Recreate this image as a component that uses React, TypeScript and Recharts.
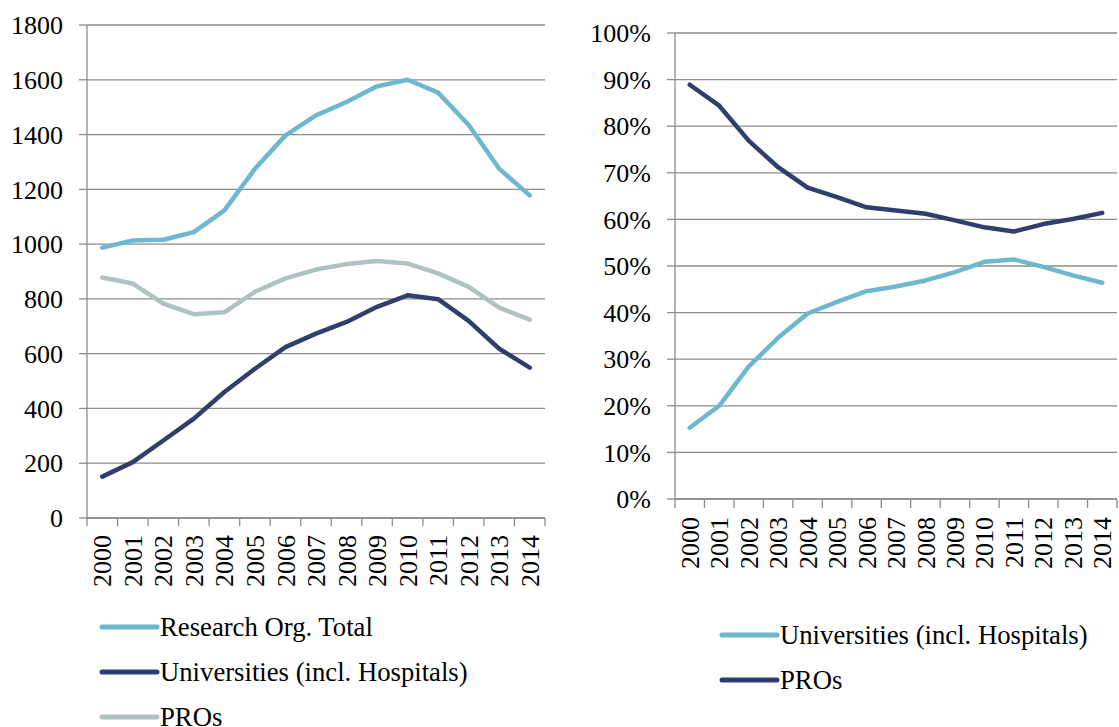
import React from "react";
import { LineChart, Line, XAxis, YAxis, CartesianGrid } from "recharts";

const YEARS = ["2000", "2001", "2002", "2003", "2004", "2005", "2006", "2007", "2008", "2009", "2010", "2011", "2012", "2013", "2014"];

// left panel: counts
const RESEARCH_TOTAL = [987, 1013, 1016, 1044, 1123, 1275, 1397, 1470, 1519, 1576, 1600, 1553, 1435, 1275, 1178];
const UNIV_COUNT = [151, 204, 283, 363, 460, 545, 624, 673, 716, 771, 813, 799, 720, 618, 549];
const PROS_COUNT = [878, 856, 783, 744, 751, 826, 875, 907, 927, 938, 929, 893, 844, 768, 724];
const COUNT_TICKS = [0, 200, 400, 600, 800, 1000, 1200, 1400, 1600, 1800];

// right panel: shares (%)
const UNIV_SHARE = [15.3, 20, 28.4, 34.6, 39.8, 42.3, 44.6, 45.6, 46.9, 48.7, 50.9, 51.4, 49.8, 48, 46.4];
const PROS_SHARE = [88.9, 84.4, 76.9, 71.2, 66.8, 64.8, 62.6, 61.9, 61.2, 59.8, 58.3, 57.4, 59, 60.1, 61.4];
const SHARE_TICKS = [0, 10, 20, 30, 40, 50, 60, 70, 80, 90, 100];

const LABEL_TOTAL = "Research Org. Total";
const LABEL_UNIV = "Universities (incl. Hospitals)";
const LABEL_PROS = "PROs";

const LIGHT_BLUE = "#6db7d0";
const NAVY = "#2f3e6d";
const GREY_GREEN = "#afc1c0";
const GRID = "#8c8c8c";
const FONT = "'Liberation Serif', 'DejaVu Serif', serif";

const countData = YEARS.map((year, i) => ({
  year,
  total: RESEARCH_TOTAL[i],
  univ: UNIV_COUNT[i],
  pros: PROS_COUNT[i],
}));

const shareData = YEARS.map((year, i) => ({
  year,
  univ: UNIV_SHARE[i],
  pros: PROS_SHARE[i],
}));

// excel-style category axis: marks between categories, labels rotated
function makeYearTick(band: number, count: number) {
  return function YearTick(props: any) {
    const { x, y, payload, index } = props;
    const top = y - 17;
    const half = band / 2;
    return (
      <g>
        <line x1={x - half} y1={top} x2={x - half} y2={top + 8} stroke={GRID} strokeWidth={1.3} />
        {index === count - 1 && (
          <line x1={x + half} y1={top} x2={x + half} y2={top + 8} stroke={GRID} strokeWidth={1.3} />
        )}
        <text
          x={x}
          y={y}
          dy="0.35em"
          transform={`rotate(-90, ${x}, ${y})`}
          textAnchor="end"
          fontSize={26}
          fontFamily={FONT}
          fill="#000"
        >
          {payload.value}
        </text>
      </g>
    );
  };
}

const LEFT_BAND = 458 / YEARS.length;
const RIGHT_BAND = 442 / YEARS.length;

const yTickStyle = { fontSize: 26, fontFamily: FONT, fill: "#000" };

function LegendBox({ items, width, height }: { items: { name: string; color: string }[]; width: number; height: number }) {
  return (
    <svg width={width} height={height} style={{ display: "block", overflow: "visible" }}>
      {items.map((it, i) => {
        const cy = 22 + i * 45;
        return (
          <g key={it.name}>
            <line x1={4} y1={cy} x2={59} y2={cy} stroke={it.color} strokeWidth={5} strokeLinecap="round" />
            <text x={62} y={cy + 9} fontSize={26.7} fontFamily={FONT} fill="#000">
              {it.name}
            </text>
          </g>
        );
      })}
    </svg>
  );
}

export default function App() {
  return (
    <div
      style={{
        position: "absolute",
        left: 0,
        top: 0,
        width: 1119,
        height: 727,
        overflow: "hidden",
        background: "#fff",
        fontFamily: FONT,
      }}
    >
      <div style={{ position: "absolute", left: 0, top: 0 }}>
        <LineChart width={560} height={600} data={countData} margin={{ top: 25, right: 15, left: 0, bottom: 0 }}>
          <CartesianGrid vertical={false} stroke={GRID} strokeWidth={1.3} />
          <XAxis
            dataKey="year"
            height={82}
            interval={0}
            padding={{ left: LEFT_BAND / 2, right: LEFT_BAND / 2 }}
            axisLine={{ stroke: GRID, strokeWidth: 1.3 }}
            tickLine={false}
            tickSize={8}
            tickMargin={9}
            tick={makeYearTick(LEFT_BAND, YEARS.length)}
          />
          <YAxis
            width={87}
            domain={[0, 1800]}
            ticks={COUNT_TICKS}
            interval={0}
            axisLine={{ stroke: GRID, strokeWidth: 1.3 }}
            tickLine={{ stroke: GRID, strokeWidth: 1.3 }}
            tickSize={8}
            tickMargin={16}
            tick={yTickStyle}
          />
          <Line dataKey="total" name={LABEL_TOTAL} stroke={LIGHT_BLUE} strokeWidth={4.5} dot={false} strokeLinecap="round" strokeLinejoin="round" isAnimationActive={false} />
          <Line dataKey="univ" name={LABEL_UNIV} stroke={NAVY} strokeWidth={4.5} dot={false} strokeLinecap="round" strokeLinejoin="round" isAnimationActive={false} />
          <Line dataKey="pros" name={LABEL_PROS} stroke={GREY_GREEN} strokeWidth={4.5} dot={false} strokeLinecap="round" strokeLinejoin="round" isAnimationActive={false} />
        </LineChart>
      </div>

      <div style={{ position: "absolute", left: 560, top: 0 }}>
        <LineChart width={559} height={580} data={shareData} margin={{ top: 33, right: 2, left: 0, bottom: 0 }}>
          <CartesianGrid vertical={false} stroke={GRID} strokeWidth={1.3} />
          <XAxis
            dataKey="year"
            height={81}
            interval={0}
            padding={{ left: RIGHT_BAND / 2, right: RIGHT_BAND / 2 }}
            axisLine={{ stroke: GRID, strokeWidth: 1.3 }}
            tickLine={false}
            tickSize={8}
            tickMargin={10}
            tick={makeYearTick(RIGHT_BAND, YEARS.length)}
          />
          <YAxis
            width={115}
            domain={[0, 100]}
            ticks={SHARE_TICKS}
            interval={0}
            tickFormatter={(v: number) => `${v}%`}
            axisLine={{ stroke: GRID, strokeWidth: 1.3 }}
            tickLine={{ stroke: GRID, strokeWidth: 1.3 }}
            tickSize={8}
            tickMargin={16}
            tick={yTickStyle}
          />
          <Line dataKey="univ" name={LABEL_UNIV} stroke={LIGHT_BLUE} strokeWidth={4.5} dot={false} strokeLinecap="round" strokeLinejoin="round" isAnimationActive={false} />
          <Line dataKey="pros" name={LABEL_PROS} stroke={NAVY} strokeWidth={4.5} dot={false} strokeLinecap="round" strokeLinejoin="round" isAnimationActive={false} />
        </LineChart>
      </div>

      <div style={{ position: "absolute", left: 98, top: 605 }}>
        <LegendBox
          width={420}
          height={122}
          items={[
            { name: LABEL_TOTAL, color: LIGHT_BLUE },
            { name: LABEL_UNIV, color: NAVY },
            { name: LABEL_PROS, color: GREY_GREEN },
          ]}
        />
      </div>

      <div style={{ position: "absolute", left: 718, top: 613 }}>
        <LegendBox
          width={400}
          height={110}
          items={[
            { name: LABEL_UNIV, color: LIGHT_BLUE },
            { name: LABEL_PROS, color: NAVY },
          ]}
        />
      </div>
    </div>
  );
}
